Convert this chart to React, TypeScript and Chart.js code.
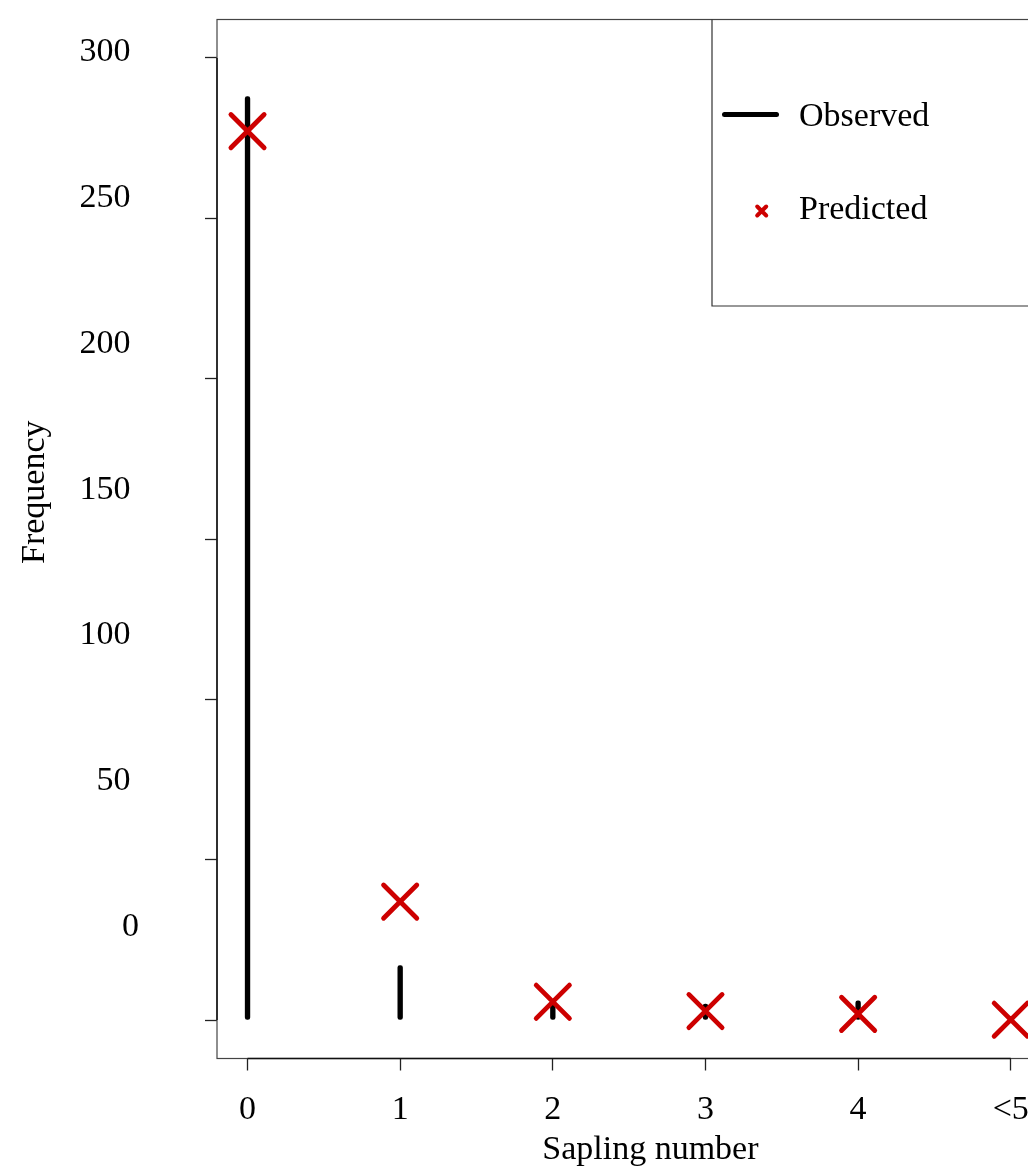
import React, { useEffect, useRef } from "react";
import { Chart, registerables } from "chart.js";

Chart.register(...registerables);

// ---- data ----
const categories = ["0", "1", "2", "3", "4", "<5"];
const categoryPositions = [0, 1, 2, 3, 4, 5];
const observed = [288, 17, 5, 5, 6, 1];
const predicted = [277.2, 36.9, 5.7, 2.8, 1.9, 0.1];
const yTickStep = 50;
const xTitle = "Sapling number";
const yTitle = "Frequency";

const RED = "#CD0000";
const FONT = "'Liberation Serif', 'Times New Roman', serif";

const W = 1060;
const H = 1190;

const framePlugin = {
  id: "frame",
  beforeDatasetsDraw(chart: any) {
    const { ctx, chartArea: a, scales } = chart;
    ctx.save();
    ctx.strokeStyle = "#444";
    ctx.lineWidth = 1.2;
    ctx.strokeRect(a.left, a.top, a.right - a.left, a.bottom - a.top);
    ctx.strokeStyle = "#111";
    ctx.lineWidth = 1.5;
    ctx.beginPath();
    ctx.moveTo(a.left, scales.y.getPixelForValue(0));
    ctx.lineTo(a.left, scales.y.getPixelForValue(300));
    ctx.moveTo(scales.x.getPixelForValue(0), a.bottom);
    ctx.lineTo(scales.x.getPixelForValue(5), a.bottom);
    ctx.stroke();
    ctx.restore();
    ctx.save();
    ctx.lineCap = "round";
  },
  afterDatasetsDraw(chart: any) {
    const { ctx, chartArea: a } = chart;
    ctx.restore();
    const dsObs = chart.data.datasets[1];
    const dsPred = chart.data.datasets[0];
    ctx.save();
    // legend box
    ctx.strokeStyle = "#333";
    ctx.lineWidth = 1.2;
    ctx.beginPath();
    ctx.moveTo(712, a.top);
    ctx.lineTo(712, 306);
    ctx.lineTo(chart.width + 5, 306);
    ctx.stroke();
    // observed entry
    ctx.lineCap = "round";
    ctx.strokeStyle = dsObs.backgroundColor;
    ctx.lineWidth = 5;
    ctx.beginPath();
    ctx.moveTo(724.5, 114.5);
    ctx.lineTo(776.5, 114.5);
    ctx.stroke();
    // predicted entry
    ctx.strokeStyle = dsPred.borderColor;
    ctx.lineWidth = 4;
    const cx = 761.7, cy = 211, h = 4.5;
    ctx.beginPath();
    ctx.moveTo(cx - h, cy - h);
    ctx.lineTo(cx + h, cy + h);
    ctx.moveTo(cx + h, cy - h);
    ctx.lineTo(cx - h, cy + h);
    ctx.stroke();
    ctx.fillStyle = "#000";
    ctx.font = `34px ${FONT}`;
    ctx.textAlign = "left";
    ctx.textBaseline = "alphabetic";
    ctx.fillText(dsObs.label, 799, 125.5);
    ctx.fillText(dsPred.label, 799, 219.3);
    ctx.restore();
  },
};

const zeroPad = (s: any) => {
  s.paddingLeft = 0;
  s.paddingRight = 0;
  s.paddingTop = 0;
  s.paddingBottom = 0;
};

export default function App() {
  const ref = useRef<HTMLCanvasElement | null>(null);

  useEffect(() => {
    if (!ref.current) return;
    Chart.defaults.font.family = FONT;
    Chart.defaults.font.size = 34;
    Chart.defaults.color = "#000";

    const chart = new Chart(ref.current, {
      type: "bar",
      data: {
        datasets: [
          {
            type: "scatter",
            label: "Predicted",
            data: categoryPositions.map((x, i) => ({ x, y: predicted[i] })),
            pointStyle: "crossRot",
            pointRadius: 23.5,
            pointBorderWidth: 4.8,
            borderColor: RED,
            backgroundColor: RED,
            borderWidth: 4.8,
            order: 0,
            clip: false,
          } as any,
          {
            type: "bar",
            label: "Observed",
            data: categoryPositions.map((x, i) => ({ x, y: observed[i] })),
            backgroundColor: "#000",
            borderWidth: 0,
            barThickness: 4.7,
            borderRadius: 2.3,
            borderSkipped: false,
            base: 0,
            order: 1,
          } as any,
        ],
      },
      options: {
        responsive: false,
        animation: false,
        devicePixelRatio: 1,
        layout: {
          autoPadding: false,
          padding: { top: 19.5, left: 0, right: W - 1041.3, bottom: 0 },
        },
        plugins: {
          legend: { display: false },
          tooltip: { enabled: false },
        },
        scales: {
          x: {
            type: "linear",
            position: "bottom",
            min: -0.2,
            max: 5.2,
            offset: false,
            ticks: {
              stepSize: 1,
              includeBounds: false,
              padding: 19.5,
              maxRotation: 0,
              autoSkip: false,
              callback: (v: any) => categories[Number(v)] ?? "",
            },
            grid: {
              display: true,
              offset: false,
              drawOnChartArea: false,
              drawTicks: true,
              tickLength: 12,
              tickColor: "#222",
              tickWidth: 1.3,
            },
            border: { display: false },
            title: {
              display: true,
              text: "     " + xTitle,
              padding: { top: 0, bottom: 19.1 },
              font: { size: 34, family: FONT },
            },
            afterFit: (s: any) => {
              s.height = H - 1058.5;
              zeroPad(s);
            },
          },
          y: {
            type: "linear",
            position: "left",
            weight: 0,
            min: -12,
            max: 312,
            ticks: {
              stepSize: yTickStep,
              includeBounds: false,
              display: false,
            },
            grid: {
              display: true,
              drawOnChartArea: false,
              drawTicks: true,
              tickLength: 12,
              tickColor: "#222",
              tickWidth: 1.3,
            },
            border: { display: false },
            afterFit: (s: any) => {
              s.width = 12;
              zeroPad(s);
            },
          },
          yLabels: {
            type: "linear",
            position: "left",
            weight: 10,
            min: -45.1,
            max: 311.3,
            ticks: {
              stepSize: yTickStep,
              includeBounds: false,
              padding: 66,
              callback: (v: any) => (Number(v) === 0 ? "0" : String(v) + " "),
            },
            grid: { display: false, drawTicks: false },
            border: { display: false },
            title: {
              display: true,
              text: "           " + yTitle,
              padding: { top: 15, bottom: 0 },
              font: { size: 34, family: FONT },
            },
            afterFit: (s: any) => {
              s.width = 205;
              zeroPad(s);
            },
          },
        },
      } as any,
      plugins: [framePlugin],
    });
    return () => chart.destroy();
  }, []);

  return (
    <div
      style={{
        position: "fixed",
        left: 0,
        top: 0,
        width: 1028,
        height: 1169,
        overflow: "hidden",
        background: "#fff",
      }}
    >
      <canvas ref={ref} width={W} height={H} style={{ width: W, height: H, display: "block" }} />
    </div>
  );
}
